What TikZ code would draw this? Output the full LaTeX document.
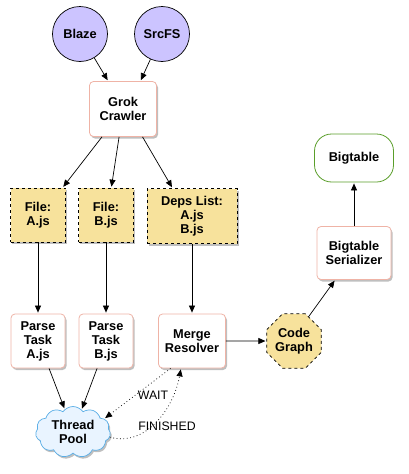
\documentclass[tikz,border=0pt]{standalone}
\usepackage{fontspec}
\setmainfont{Liberation Sans}
\usetikzlibrary{arrows.meta,shapes,shadows,positioning}
\definecolor{srcfill}{HTML}{CCC4FF}
\definecolor{filefill}{HTML}{F7E29C}
\definecolor{boxline}{HTML}{EFB3A6}
\definecolor{poolfill}{HTML}{E9F4FF}
\definecolor{poolline}{HTML}{5AAEE6}
\definecolor{bigline}{HTML}{5A9E2A}
\tikzset{
  lbl/.style     = { font=\fontsize{12.8}{14}\selectfont\bfseries, align=center },
  shd/.style     = { drop shadow={shadow xshift=1.5pt, shadow yshift=-2pt, opacity=0.25, fill=black} },
  srcloc/.style  = { lbl, draw, circle, fill=srcfill, minimum size=55pt, inner sep=0pt },
  taskbox/.style = { lbl, draw=boxline, thick, fill=white, rounded corners=4pt, shd,
    minimum width=54pt, minimum height=54pt, inner sep=1pt },
  filebox/.style = { lbl, draw, dashed, fill=filefill, shd,
    minimum width=55pt, minimum height=54pt, inner sep=1pt },
  graphloc/.style= { lbl, draw, dashed, fill=filefill, regular polygon, regular polygon sides=8,
    minimum size=59pt, inner sep=0pt },
  poolloc/.style = { lbl, draw=poolline, fill=poolfill, cloud, cloud puffs=11, cloud puff arc=110,
    aspect=1.6, minimum width=75pt, minimum height=51pt, inner sep=0pt, shd },
  storeloc/.style= { lbl, draw=bigline, thick, fill=white, rounded corners=17pt,
    minimum width=79pt, minimum height=48pt },
  note/.style    = { font=\fontsize{12.3}{14}\selectfont, inner sep=0pt },
  waitln/.style  = { ->, line width=0.7pt, dash pattern=on 0.8pt off 2.6pt }
}
\begin{document}
\begin{tikzpicture}[x=1pt,y=1pt,shorten >=1pt,line width=0.7pt,node distance=1cm,on grid,
    >={Triangle[length=7pt,width=6pt]}]
    \useasboundingbox (0,0) rectangle (408,-474);
    \node[taskbox, minimum width=67pt, minimum height=55pt] (grok) at (123,-109) {Grok\\Crawler};
    \node[srcloc, above left=75pt and 43pt of grok] (blaze) {Blaze};
    \node[srcloc, above right=75pt and 39pt of grok] (srcfs) {SrcFS};
    \node[filebox, below left=106pt and 85pt of grok] (filea) {File:\\A.js};
    \node[filebox, below left=106pt and 17pt of grok] (fileb) {File:\\B.js};
    \node[filebox, minimum width=90pt, minimum height=55pt, below right=107pt and 69pt of grok] (deps) {Deps List:\\A.js\\B.js};
    \node[taskbox, below=126pt of filea] (parsea) {Parse\\Task\\A.js};
    \node[taskbox, below=126pt of fileb] (parseb) {Parse\\Task\\B.js};
    \node[taskbox, minimum width=67pt, below=125pt of deps] (merge) {Merge\\Resolver};
    \node[graphloc, right=102pt of merge] (code) {Code\\Graph};
    \node[taskbox, minimum width=74pt, minimum height=53pt, above right=88pt and 60pt of code] (ser) {Bigtable\\Serializer};
    \node[storeloc, above=95pt of ser] (big) {Bigtable};
    \node[poolloc, below right=91pt and 35pt of parsea] (pool) {Thread\\Pool};
    \node[note] (wait) at (153,-395) {WAIT};
    \node[note] (fin) at (167,-426) {FINISHED};

    \path[->] (blaze) edge (grok.118);
    \path[->] (srcfs) edge (grok.58);
    \path[->] (grok.233) edge (filea.48);
    \path[->] (grok.262) edge (fileb.79);
    \path[->] (grok.305) edge (deps.125);
    \path[->] (filea) edge (parsea);
    \path[->] (fileb) edge (parseb);
    \path[->] (deps) edge (merge);
    \path[->] (parsea.292) edge (pool.110);
    \path[->] (parseb.252) edge (pool.69);
    \path[->] (merge) edge (code);
    \path[->] (code.59) edge (ser.235);
    \path[->] (ser) edge (big);
    \path[waitln] (merge.232) edge (pool.23);
    \path[waitln] (pool.-8) edge[out=-15,in=-100] (merge.248);
  \end{tikzpicture}
\end{document}
